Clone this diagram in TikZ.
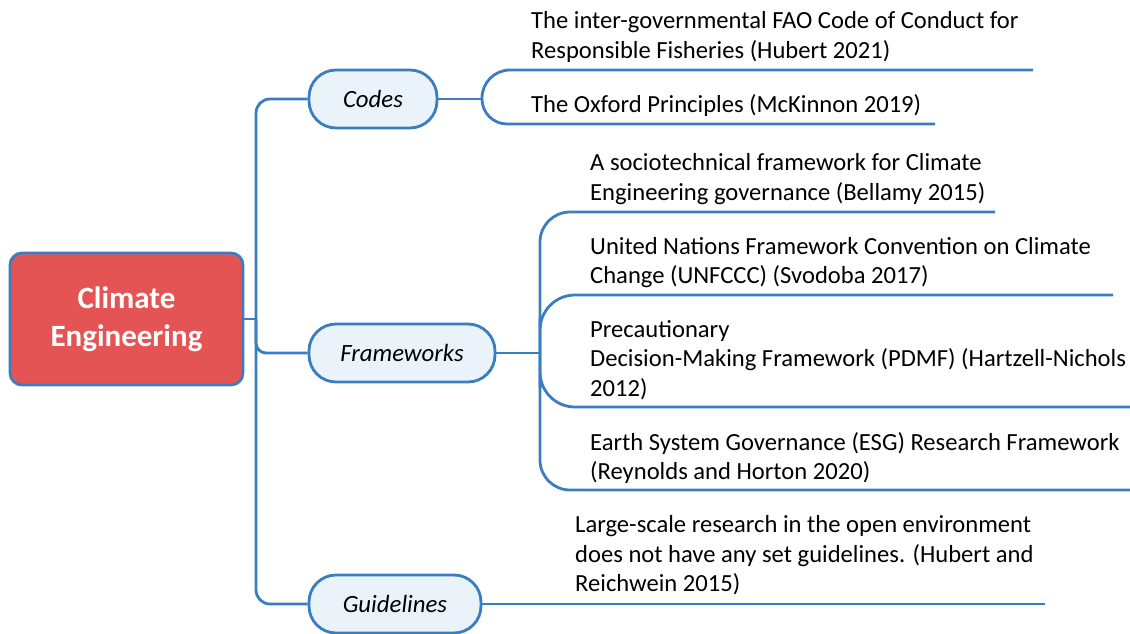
\documentclass[tikz,border=0pt]{standalone}
\usepackage{fontspec}
\setmainfont{Carlito}
\usepackage{tikz}
\usetikzlibrary{positioning}
\usetikzlibrary{calc}
\definecolor{mapblue}{RGB}{58,125,192}
\definecolor{rootred}{RGB}{228,84,84}
\definecolor{pillfill}{RGB}{234,242,250}
\tikzstyle{rootnode}=[rectangle,rounded corners=12pt,fill=rootred,draw=mapblue,line width=2.8pt,minimum width=233pt,minimum height=132pt,align=center,text=white,font=\bfseries\fontsize{31}{38}\selectfont]
\tikzstyle{pill}=[rectangle,rounded corners=27pt,fill=pillfill,draw=mapblue,line width=2.8pt,minimum height=58pt,font=\itshape\fontsize{24.8}{28}\selectfont]
\tikzstyle{leaf}=[anchor=west,inner sep=0pt,align=left,font=\fontsize{24.6}{29.5}\selectfont]
\tikzstyle{link}=[draw=mapblue,line width=2.8pt]

\begin{document}
\begin{tikzpicture}[x=1pt,y=-1pt]
\useasboundingbox (0,0) rectangle (1130,634);

 %root and branches
 \node[rootnode] (root) at (126.5,319) {Climate\\Engineering};
 \node[pill,minimum width=128pt] (codes) at (373,99) {Codes};
 \node[pill,minimum width=186pt] (frame) at (402,353) {Frameworks};
 \node[pill,minimum width=172pt] (guide) at (395,604) {Guidelines};

 %leaves
  \foreach \x/\y/\name/\label in {531/37/c1/{The inter-governmental FAO Code of Conduct for\\Responsible Fisheries (Hubert 2021)},
                                  531/105/c2/{The Oxford Principles (McKinnon 2019)}}
          \node[leaf] (\name) at (\x,\y) {\label};

  \foreach \x/\y/\name/\label in {590/179/f1/{A sociotechnical framework for Climate\\Engineering governance (Bellamy 2015)},
                                  590/262.5/f2/{United Nations Framework Convention on Climate\\Change (UNFCCC) (Svodoba 2017)},
                                  590/360/f3/{Precautionary\\Decision-Making Framework (PDMF) (Hartzell-Nichols\\2012)},
                                  590/458/f4/{Earth System Governance (ESG) Research Framework\\(Reynolds and Horton 2020)}}
          \node[leaf] (\name) at (\x,\y) {\label};

  \node[leaf] (g1) at (575,555.5) {Large-scale research in the open environment\\does not have any set guidelines. (Hubert and\\Reichwein 2015)};

 %hubs and line ends
 \coordinate (trunk) at (256,319);
 \coordinate (chub) at (482,99);
 \coordinate (fhub) at (540,353);
  \foreach \x/\y/\name in {1033/70/c1end, 935/124/c2end, 995/212/f1end, 1113/295/f2end,
                           1130/407/f3end, 1130/490/f4end, 1045/604/gend}
          \coordinate (\name) at (\x,\y);

 %connectors
 \path[link] (root.east) -- (trunk);
 \path[link,rounded corners=14pt] (codes.west) -| (trunk) |- (guide.west);
 \path[link,rounded corners=10pt] (trunk) |- (frame.west);

 \path[link] (codes.east) -- (chub);
 \path[link,rounded corners=28pt] (chub) |- (c1end);
 \path[link,rounded corners=25pt] (chub) |- (c2end);

 \path[link] (frame.east) -- (fhub);
 \path[link,rounded corners=30pt] (f1end) -| (fhub) |- (f4end);
 \path[link,rounded corners=35pt] (f2end) -| (fhub) |- (f3end);

 \path[link] (guide.east) -- (gend);

\end{tikzpicture}
\end{document}
